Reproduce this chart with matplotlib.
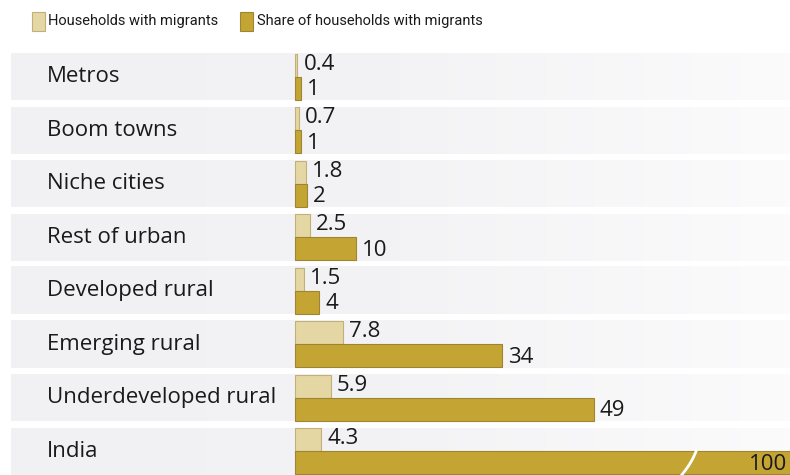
import numpy as np
import matplotlib
matplotlib.use("Agg")
import matplotlib.pyplot as plt
from matplotlib.patches import Rectangle
from matplotlib.colors import LinearSegmentedColormap

categories = ["Metros", "Boom towns", "Niche cities", "Rest of urban",
              "Developed rural", "Emerging rural", "Underdeveloped rural", "India"]
households = [0.4, 0.7, 1.8, 2.5, 1.5, 7.8, 5.9, 4.3]
share = [1, 1, 2, 10, 4, 34, 49, 100]
hh_labels = ["0.4", "0.7", "1.8", "2.5", "1.5", "7.8", "5.9", "4.3"]
share_labels = ["1", "1", "2", "10", "4", "34", "49", "100"]
legend_labels = ["Households with migrants", "Share of households with migrants"]

plt.rcParams['font.family'] = ['Open Sans', 'DejaVu Sans']
legend_font = 'Roboto'

LIGHT = "#e5d7a3"
LIGHT_EDGE = "#c2b07a"
DARK = "#c4a433"
DARK_EDGE = "#9c8533"
TEXT = "#1a1a1a"

W, H = 790, 475
fig = plt.figure(figsize=(W / 100, H / 100), dpi=100)
ax = fig.add_axes([0, 0, 1, 1])

ppu = 6.1          # pixels per unit
base_px = 295
pitch = 53.5
first_c = 76.5
xlim = (-base_px / ppu, (W - base_px) / ppu)
ylim = ((H - first_c) / pitch, -first_c / pitch)
ax.axis('off')

band_half = 23.5 / pitch
band_left = (11 - base_px) / ppu
grad = np.linspace(0, 1, 256).reshape(1, -1)
cmap = LinearSegmentedColormap.from_list("band", ["#f1f1f4", "#f3f3f5", "#fbfbfc"])
h = 23 / pitch
n = len(categories)
for i in range(n):
    ax.imshow(grad, extent=[band_left, xlim[1], i + band_half, i - band_half],
              aspect='auto', cmap=cmap, zorder=0, interpolation='bilinear')

y = np.arange(n)
ax.barh(y - h / 2, households, height=h, color=LIGHT, edgecolor=LIGHT_EDGE, linewidth=0.8, zorder=2)
ax.barh(y + h / 2, share, height=h, color=DARK, edgecolor=DARK_EDGE, linewidth=0.8, zorder=2)
ax.set_xlim(*xlim)
ax.set_ylim(*ylim)

gap = 6 / ppu
for i in range(n):
    ax.text(band_left + (47 - 11) / ppu, i, categories[i], fontsize=16, color=TEXT,
            va='center', ha='left', zorder=3)
    ax.text(households[i] + gap, i - h / 2 - 0.01, hh_labels[i], fontsize=16, color=TEXT,
            va='center', ha='left', zorder=3)
    if share[i] > xlim[1]:
        ax.text(xlim[1] - 0.5, i + h / 2 + 0.03, share_labels[i], fontsize=16, color=TEXT,
                va='center', ha='right', zorder=3)
        xb = xlim[1] - 16.6
        t = np.linspace(0, 1, 20)
        bx = xb + 1.3 - 2.6 * t + 0.25 * np.sin(np.pi * t)
        by = i - 0.02 + (h + 0.06) * t
        ax.plot(bx, by, color='white', lw=2.0, zorder=4, solid_capstyle='butt')
    else:
        ax.text(share[i] + gap, i + h / 2 + 0.03, share_labels[i], fontsize=16, color=TEXT,
                va='center', ha='left', zorder=3)

# legend (manual, pixel-placed)
def fx(px):
    return px / W

def fy(py):
    return 1 - py / H

fig.patches.append(Rectangle((fx(32), fy(31)), 13 / W, 19 / H, transform=fig.transFigure,
                             facecolor=LIGHT, edgecolor=LIGHT_EDGE, linewidth=0.8))
fig.patches.append(Rectangle((fx(240), fy(31)), 13 / W, 19 / H, transform=fig.transFigure,
                             facecolor=DARK, edgecolor=DARK_EDGE, linewidth=0.8))
fig.text(fx(48), fy(21), legend_labels[0], family=[legend_font, 'DejaVu Sans'], fontsize=10.5,
         color=TEXT, va='center', ha='left')
fig.text(fx(257), fy(21), legend_labels[1], family=[legend_font, 'DejaVu Sans'], fontsize=10.5,
         color=TEXT, va='center', ha='left')

fig.savefig("out.png", dpi=100, facecolor='white')
